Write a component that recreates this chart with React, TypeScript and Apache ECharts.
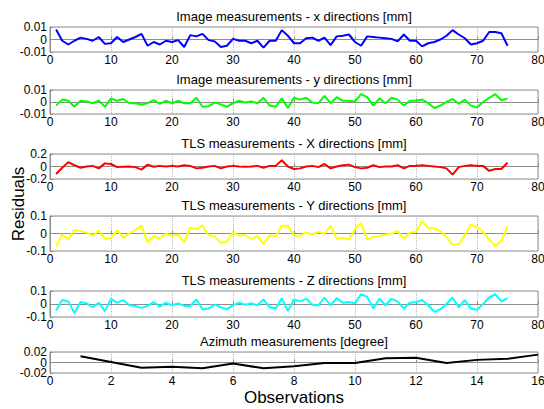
import React, { useEffect, useRef } from "react";
import * as echarts from "echarts";

const imgX = [0.008, -0.001, -0.004, -0.001, 0.0015, 0.0005, -0.001, 0.002, -0.0035, -0.003, 0.002, -0.002, 0, 0.002, 0.0045, -0.005, -0.002, -0.004, -0.001, -0.002, -0.0005, -0.006, 0.0035, 0.0025, 0.0045, -0.0005, -0.0015, -0.006, -0.005, 0.0005, -0.001, -0.001, -0.003, -0.001, -0.0065, -0.001, -0.001, 0.0075, 0.003, -0.003, -0.003, 0.001, 0.0015, -0.001, 0.0015, -0.0045, 0.0025, 0.003, 0.004, -0.002, -0.005, 0.0025, 0.002, 0.0015, 0.001, 0.0005, -0.0015, 0.004, -0.001, -0.001, -0.0055, -0.003, -0.002, 0, 0.003, 0.0075, 0.004, 0.001, -0.004, -0.003, -0.001, 0.006, 0.006, 0.005, -0.005];
const imgY = [-0.003, 0.002, 0.001, -0.004, 0.001, 0.0005, -0.001, 0.001, -0.004, 0.003, 0.001, 0.0025, -0.001, -0.001, -0.002, -0.001, 0.0015, -0.0015, 0.001, -0.001, 0.001, -0.001, -0.001, 0.0035, -0.004, -0.0035, -0.0005, -0.002, -0.004, -0.001, 0.001, -0.0005, 0.0005, -0.001, 0.0035, -0.003, -0.004, 0.003, -0.005, 0.0035, 0.002, 0.0035, -0.0005, -0.001, 0.005, -0.001, 0.004, 0.001, 0.001, 0.0005, 0.0065, 0.004, -0.003, 0.003, -0.001, 0.0035, 0.002, -0.003, 0.001, 0.001, 0.002, -0.001, -0.005, -0.003, 0, 0.0025, -0.0015, 0.002, -0.003, -0.0045, 0, 0.0035, 0.0065, 0.0015, 0.003];
const tlsX = [-0.12, -0.02, 0.07, 0.02, -0.02, 0, 0.01, -0.03, 0.05, 0.04, -0.01, -0.005, 0, -0.01, -0.05, 0.03, -0.005, 0.01, 0, 0.01, 0, 0.02, 0.01, -0.03, -0.02, 0, 0.01, -0.03, 0, 0.01, 0, -0.005, 0, 0.01, -0.02, 0.01, 0.01, 0.1, 0, -0.04, -0.03, 0, 0.01, -0.01, 0.04, -0.03, 0, 0.02, 0.03, -0.01, -0.03, -0.02, 0.02, -0.01, 0, 0, 0.02, -0.03, 0.01, 0.01, 0.02, 0.01, 0, -0.01, -0.03, -0.13, -0.01, 0.01, 0.02, 0.01, 0.01, -0.07, -0.04, -0.04, 0.06];
const tlsY = [-0.075, -0.005, -0.035, 0.02, 0.015, 0.005, -0.01, 0.015, -0.03, -0.025, 0.02, -0.025, 0, 0.02, 0.045, -0.05, -0.015, -0.03, 0, -0.015, -0.005, -0.05, 0.035, 0.025, 0.045, -0.01, -0.015, -0.055, -0.045, 0.005, -0.01, -0.01, -0.03, -0.015, -0.06, -0.01, -0.015, 0.045, 0.045, -0.01, -0.015, 0.005, -0.005, 0.01, 0, 0.045, -0.03, -0.025, -0.035, 0.025, 0.06, -0.035, -0.02, -0.015, -0.005, 0, 0.015, -0.03, 0.005, 0.01, 0.07, 0.03, 0.03, 0.015, -0.02, -0.065, -0.06, -0.01, 0.05, 0.035, 0.01, -0.035, -0.07, -0.04, 0.04];
const tlsZ = [-0.05, 0.03, 0.02, -0.07, 0.015, 0.005, -0.025, 0.01, -0.055, 0.04, 0.01, 0.03, -0.01, -0.015, -0.03, -0.015, 0.015, -0.02, 0.01, -0.01, 0.005, -0.015, -0.015, 0.035, -0.04, -0.035, -0.005, -0.025, -0.04, -0.01, 0.01, -0.005, 0.005, -0.01, 0.035, -0.025, -0.035, 0.045, -0.055, 0.035, 0.02, 0.04, -0.005, -0.01, 0.05, -0.01, 0.045, 0.01, 0.015, 0.005, 0.075, 0.055, -0.035, 0.04, -0.01, 0.04, 0.02, -0.035, 0.01, 0.015, 0.03, -0.01, -0.06, -0.04, 0, 0.05, -0.025, 0.03, -0.035, -0.045, 0, 0.05, 0.075, 0.02, 0.045];
const azimuth = [0.012, 0.001, -0.01, -0.008, -0.011, -0.002, -0.011, -0.007, -0.001, -0.001, 0.008, 0.009, -0.001, 0.005, 0.007, 0.015];

const titles = [
  "Image measurements - x directions [mm]",
  "Image measurements - y directions [mm]",
  "TLS measurements - X directions [mm]",
  "TLS measurements - Y directions [mm]",
  "TLS measurements - Z directions [mm]",
  "Azimuth measurements [degree]",
];
const seriesData = [imgX, imgY, tlsX, tlsY, tlsZ, azimuth];
const colors = ["#0000ff", "#00ff00", "#ff0000", "#ffff00", "#00ffff", "#000000"];
const yRanges = [0.01, 0.01, 0.2, 0.1, 0.1, 0.02];
const xMaxes = [80, 80, 80, 80, 80, 16];
const xIntervals = [10, 10, 10, 10, 10, 2];

const FONT = "Liberation Sans, Arial, sans-serif";
const LEFT = 50;
const RIGHT_EDGE = 538;
const tops = [27, 90, 154, 216, 291, 352];
const heights = [25, 24, 25, 35, 26, 21];

const fmt = (v: number) => (Math.abs(v) < 1e-12 ? "0" : String(v));

export default function App() {
  const ref = useRef<HTMLDivElement>(null);
  useEffect(() => {
    if (!ref.current) return;
    const chart = echarts.init(ref.current, null, { renderer: "svg" });
    const grid = tops.map((t, i) => ({
      left: LEFT,
      width: RIGHT_EDGE - LEFT,
      top: t,
      height: heights[i],
      show: true,
      borderColor: "#8c8c8c",
      borderWidth: 1,
      backgroundColor: "#ffffff",
      containLabel: false,
      outerBoundsMode: "none",
    }));
    const axisLine = { show: true, lineStyle: { color: "#8c8c8c", width: 1 } };
    const splitLine = { show: true, lineStyle: { color: "#b8b8b8", type: "dotted" as const, width: 1 } };
    const labelStyle = { color: "#000", fontSize: 12, fontFamily: FONT };
    const xAxis = tops.map((_, i) => ({
      type: "value" as const,
      gridIndex: i,
      min: 0,
      max: xMaxes[i],
      interval: xIntervals[i],
      axisLine,
      axisTick: { show: true, inside: true, length: 3, lineStyle: { color: "#8c8c8c" } },
      splitLine,
      axisLabel: { ...labelStyle, margin: 2, showMinLabel: true, showMaxLabel: true, hideOverlap: false },
    }));
    const last = tops.length - 1;
    const yAxis: any[] = tops.map((_, i) => ({
      type: "value" as const,
      gridIndex: i,
      min: -yRanges[i],
      max: yRanges[i],
      interval: yRanges[i],
      axisLine,
      axisTick: { show: true, inside: true, length: 3, lineStyle: { color: "#8c8c8c" } },
      splitLine,
      axisLabel: {
        ...labelStyle,
        margin: 3,
        showMinLabel: true,
        showMaxLabel: true,
        hideOverlap: false,
        formatter: i === last ? (v: number) => (Math.abs(v) < 1e-12 ? "" : fmt(v)) : fmt,
      },
    }));
    // extra label-only axis for the zero label of the short bottom panel
    yAxis.push({
      type: "value" as const,
      gridIndex: last,
      position: "left",
      min: -yRanges[last],
      max: yRanges[last],
      interval: yRanges[last],
      axisLine: { show: false },
      axisTick: { show: false },
      splitLine: { show: false },
      axisLabel: { ...labelStyle, margin: 3, customValues: [0], formatter: fmt },
    });
    const series = seriesData.map((d, i) => ({
      type: "line" as const,
      xAxisIndex: i,
      yAxisIndex: i,
      data: d.map((v, k) => [k + 1, v]),
      showSymbol: false,
      symbol: "none",
      lineStyle: { color: colors[i], width: 2 },
      itemStyle: { color: colors[i] },
    }));
    const graphic: any[] = titles.map((t, i) => ({
      type: "text",
      x: (LEFT + RIGHT_EDGE) / 2,
      y: tops[i] - 4,
      style: {
        text: t,
        fill: "#000",
        fontSize: 13,
        fontFamily: FONT,
        textAlign: "center",
        textVerticalAlign: "bottom",
      },
    }));
    graphic.push({
      type: "text",
      x: 294,
      y: 397,
      style: { text: "Observations", fill: "#000", fontSize: 17, fontFamily: FONT, textAlign: "center", textVerticalAlign: "middle" },
    });
    graphic.push({
      type: "text",
      x: 18,
      y: 204,
      rotation: Math.PI / 2,
      style: { text: "Residuals", fill: "#000", fontSize: 17, fontFamily: FONT, textAlign: "center", textVerticalAlign: "middle" },
    });
    chart.setOption({
      animation: false,
      backgroundColor: "#ffffff",
      grid,
      xAxis,
      yAxis,
      series,
      graphic,
    });
    return () => chart.dispose();
  }, []);
  return (
    <div
      ref={ref}
      style={{ position: "fixed", left: 0, top: 0, width: 544, height: 409 }}
    />
  );
}
